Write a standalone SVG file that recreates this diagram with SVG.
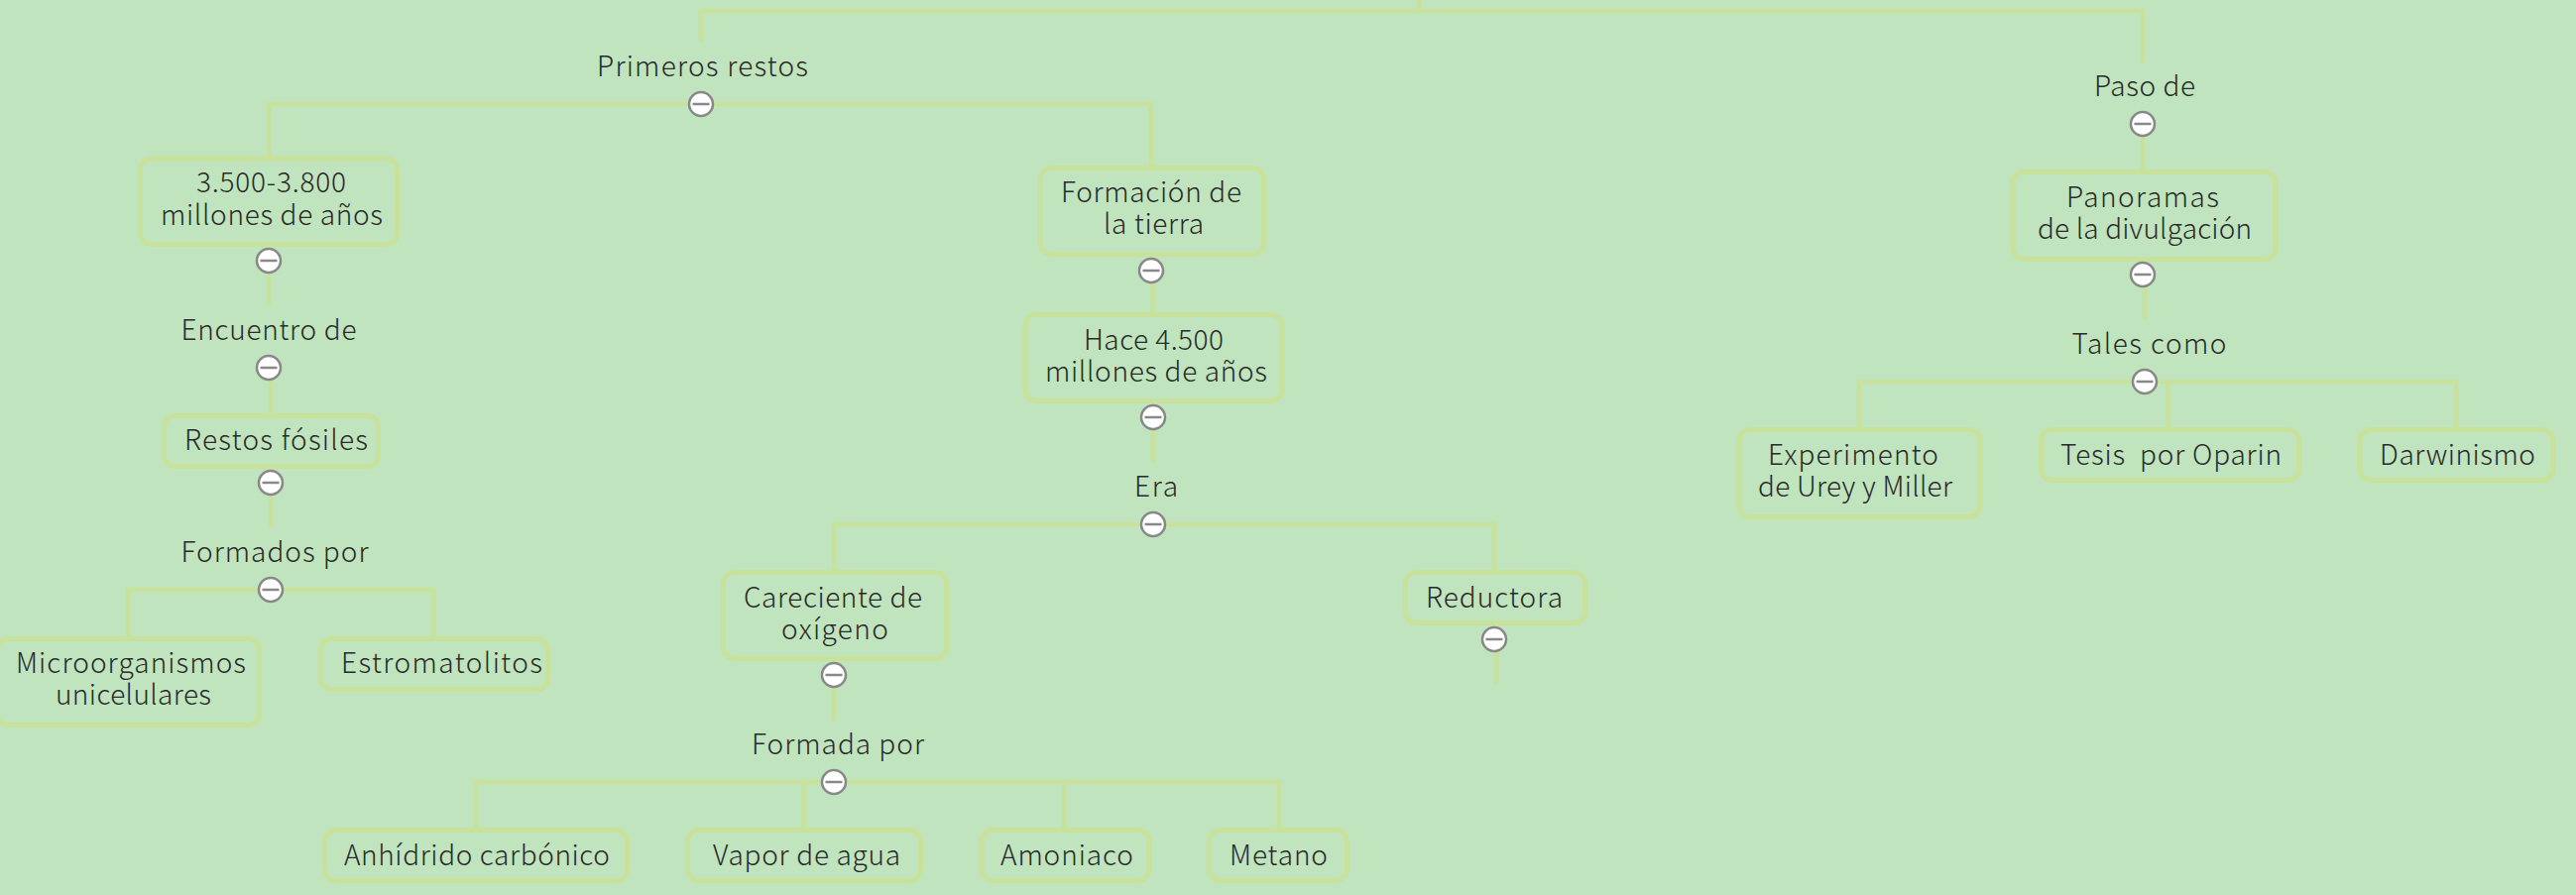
<svg xmlns="http://www.w3.org/2000/svg" width="2598" height="903" viewBox="0 0 2598 903">
<style>
text{font-family:"Noto Sans CJK SC","Noto Sans",sans-serif;font-size:28px;font-weight:300;fill:#2a2a2a;white-space:pre}
.b{fill:none;stroke:#c8e29b;stroke-width:5}
.c{fill:none;stroke:#c8e29b;stroke-width:4.500}
.t circle{fill:#fff;stroke:#888;stroke-width:2.500}
.t line{stroke:#888;stroke-width:2.500}
</style>
<defs><g id="tg" class="t"><circle r="12"/><line x1="-8.500" x2="8.500"/></g></defs>
<rect width="2598" height="903" fill="#c0e4bd"/>
<g id="connectors">
<path class="c" d="M1431 0V11M707 42V11H2161V63"/>
<path class="c" d="M271 158V105H1161V168"/>
<path class="c" d="M271 275V308M273 383V418M273 499V532"/>
<path class="c" d="M129 643V595H437V643"/>
<path class="c" d="M1163 285V316M1163 433V466"/>
<path class="c" d="M841 576V529H1507V576"/>
<path class="c" d="M841 693V727M1509 657V690"/>
<path class="c" d="M480 837V789H1290V837M811 789V837M1073 789V837"/>
<path class="c" d="M2161 137V172M2163 289V322"/>
<path class="c" d="M1875 432V385H2477V432M2187 385V432"/>
</g>
<g id="n-primeros"><text x="602" y="77" textLength="213">Primeros restos</text><use href="#tg" x="707" y="105"/></g>
<g id="n-3500"><rect class="b" x="141.500" y="160" width="259" height="86.500" rx="11"/><text x="198" y="194" textLength="151">3.500-3.800</text><text x="162" y="227" textLength="224">millones de años</text><use href="#tg" x="271" y="263"/></g>
<g id="n-encuentro"><text x="182.500" y="343" textLength="177">Encuentro de</text><use href="#tg" x="271" y="371"/></g>
<g id="n-restos"><rect class="b" x="165.500" y="419.500" width="216" height="51" rx="11"/><text x="186" y="454" textLength="185">Restos fósiles</text><use href="#tg" x="273" y="487"/></g>
<g id="n-formados"><text x="182.500" y="567" textLength="189">Formados por</text><use href="#tg" x="273" y="595"/></g>
<g id="n-micro"><rect class="b" x="-2.500" y="644.500" width="264" height="87" rx="11"/><text x="16" y="679" textLength="232">Microorganismos</text><text x="56" y="711" textLength="157">unicelulares</text></g>
<g id="n-estroma"><rect class="b" x="323.500" y="644.500" width="229" height="51" rx="11"/><text x="344" y="679" textLength="203">Estromatolitos</text></g>
<g id="n-formacion"><rect class="b" x="1049.500" y="169.500" width="225" height="87" rx="11"/><text x="1070" y="204" textLength="182">Formación de</text><text x="1113" y="236" textLength="101">la tierra</text><use href="#tg" x="1161" y="273"/></g>
<g id="n-hace"><rect class="b" x="1034" y="317.500" width="259" height="87" rx="11"/><text x="1093" y="353" textLength="141">Hace 4.500</text><text x="1054" y="385" textLength="224">millones de años</text><use href="#tg" x="1163" y="421"/></g>
<g id="n-era"><text x="1144" y="501" textLength="44">Era</text><use href="#tg" x="1163" y="529"/></g>
<g id="n-careciente"><rect class="b" x="729.500" y="577.500" width="225" height="87" rx="11"/><text x="750" y="613" textLength="180">Careciente de</text><text x="788" y="645" textLength="108">oxígeno</text><use href="#tg" x="841" y="681"/></g>
<g id="n-reductora"><rect class="b" x="1417.500" y="577.500" width="181" height="51" rx="11"/><text x="1438" y="613" textLength="138">Reductora</text><use href="#tg" x="1507" y="645"/></g>
<g id="n-formada"><text x="758" y="761" textLength="174">Formada por</text><use href="#tg" x="841" y="789"/></g>
<g id="n-anhidrido"><rect class="b" x="327.500" y="837.500" width="305" height="51" rx="11"/><text x="347" y="873" textLength="268">Anhídrido carbónico</text></g>
<g id="n-vapor"><rect class="b" x="693.500" y="837.500" width="235" height="51" rx="11"/><text x="719" y="873" textLength="189">Vapor de agua</text></g>
<g id="n-amoniaco"><rect class="b" x="990" y="837.500" width="169" height="51" rx="11"/><text x="1009" y="873" textLength="134">Amoniaco</text></g>
<g id="n-metano"><rect class="b" x="1219.500" y="837.500" width="139" height="51" rx="11"/><text x="1240" y="873" textLength="99">Metano</text></g>
<g id="n-paso"><text x="2112" y="97" textLength="102">Paso de</text><use href="#tg" x="2161" y="125"/></g>
<g id="n-panoramas"><rect class="b" x="2030" y="173.500" width="265" height="88" rx="11"/><text x="2084" y="209" textLength="154">Panoramas</text><text x="2055" y="241" textLength="216">de la divulgación</text><use href="#tg" x="2161" y="277"/></g>
<g id="n-tales"><text x="2089.500" y="357" textLength="156">Tales como</text><use href="#tg" x="2163" y="385"/></g>
<g id="n-experimento"><rect class="b" x="1754" y="433.500" width="243" height="88" rx="11"/><text x="1783" y="469" textLength="172">Experimento</text><text x="1773" y="501" textLength="196">de Urey y Miller</text></g>
<g id="n-tesis"><rect class="b" x="2058.500" y="433.500" width="260" height="51" rx="11"/><text x="2078" y="469" textLength="223">Tesis  por Oparin</text></g>
<g id="n-darwinismo"><rect class="b" x="2380" y="433.500" width="195" height="51" rx="11"/><text x="2400" y="469" textLength="157">Darwinismo</text></g>
</svg>
